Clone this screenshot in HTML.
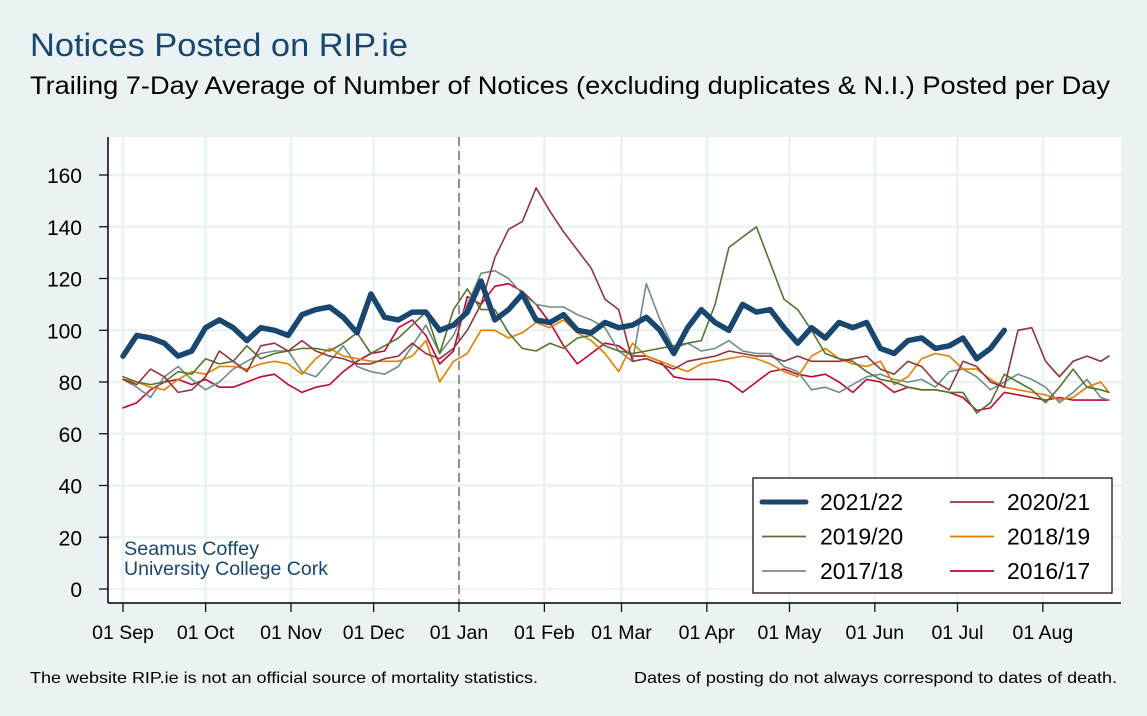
<!DOCTYPE html>
<html><head><meta charset="utf-8"><style>
body{margin:0;background:#eaf2f3;}
svg{display:block;font-family:"Liberation Sans",Arial,sans-serif;}
</style></head><body>
<svg id="chart" width="1147" height="716" viewBox="0 0 1147 716">
<rect x="0" y="0" width="1147" height="716" fill="#eaf2f3"/>
<text x="30" y="56" font-size="32" fill="#1a476f" textLength="378" lengthAdjust="spacingAndGlyphs">Notices Posted on RIP.ie</text>
<text x="30" y="94" font-size="25" fill="#000" textLength="1080" lengthAdjust="spacingAndGlyphs">Trailing 7-Day Average of Number of Notices (excluding duplicates &amp; N.I.) Posted per Day</text>
<rect x="108" y="137" width="1013" height="466" fill="#fff"/>
<g id="grid"></g>
<g id="series"></g>
<line x1="459" y1="137" x2="459" y2="603" stroke="#555" stroke-width="1.2" stroke-dasharray="9,5"/>
<g id="axes"></g>
<text x="124" y="555" font-size="19" fill="#1a476f" textLength="135" lengthAdjust="spacingAndGlyphs">Seamus Coffey</text>
<text x="124" y="575" font-size="19" fill="#1a476f" textLength="204" lengthAdjust="spacingAndGlyphs">University College Cork</text>
<g>
<rect x="753" y="478" width="359" height="115" fill="#fff" stroke="#000" stroke-width="1.2"/>
<g id="legend-items"></g>
</g>
<text x="30" y="683" font-size="16" fill="#000" textLength="508" lengthAdjust="spacingAndGlyphs">The website RIP.ie is not an official source of mortality statistics.</text>
<text x="634" y="683" font-size="16" fill="#000" textLength="483" lengthAdjust="spacingAndGlyphs">Dates of posting do not always correspond to dates of death.</text>
</svg>
<script>
const days = [0,5,10,15,20,25,30,35,40,45,50,55,60,65,70,75,80,85,90,95,100,105,110,115,120,125,130,135,140,145,150,155,160,165,170,175,180,185,190,195,200,205,210,215,220,225,230,235,240,245,250,255,260,265,270,275,280,285,290,295,300,305,310,315,320,325,330,335,340,345,350,355,358];
const s2122 = [90,98,97,95,90,92,101,104,101,96,101,100,98,106,108,109,105,99,114,105,104,107,107,100,102,107,119,104,108,114,104,103,106,100,99,103,101,102,105,100,91,101,108,103,100,110,107,108,101,95,101,97,103,101,103,93,91,96,97,93,94,97,89,93,100];
const s2021 = [81,79,85,82,76,77,82,92,88,84,94,95,92,96,92,90,89,87,87,89,90,95,91,89,93,100,110,128,139,142,155,146,138,131,124,112,108,88,89,87,85,88,89,90,92,91,90,90,88,90,88,88,88,89,90,85,83,88,86,80,77,88,86,80,78,100,101,88,82,88,90,88,90];
const s1920 = [82,80,79,80,84,83,89,87,88,94,89,91,92,93,93,92,95,99,91,94,97,102,107,91,108,116,108,108,99,93,92,95,93,97,98,94,92,91,92,93,94,95,96,110,132,136,140,126,112,108,100,91,89,88,84,81,80,78,77,77,76,76,68,72,83,80,77,72,78,85,78,77,76];
const s1819 = [81,80,78,77,81,84,83,86,86,85,87,88,87,83,89,93,90,89,88,88,88,90,96,80,88,91,100,100,97,99,103,101,104,99,96,91,84,95,90,88,86,84,87,88,89,90,89,87,84,82,90,93,89,87,86,88,79,82,89,91,90,85,85,81,78,77,76,75,73,74,78,80,76];
const s1718 = [81,78,74,82,86,81,77,80,85,88,91,92,92,84,82,88,94,86,84,83,86,94,102,91,98,110,122,123,120,114,110,109,109,106,104,101,92,88,118,104,93,95,92,93,96,92,91,91,86,84,77,78,76,79,82,83,81,80,81,78,84,85,82,77,80,83,81,78,72,76,81,74,73];
const s1617 = [70,72,77,80,81,79,81,78,78,80,82,83,79,76,78,79,84,88,91,92,101,104,98,87,92,113,110,117,118,115,110,103,94,87,91,95,94,90,90,88,82,81,81,81,80,76,80,84,85,83,82,83,80,76,81,80,76,78,77,77,76,74,69,70,76,75,74,73,74,73,73,73,73];
const yTicks = [0,20,40,60,80,100,120,140,160];
const xTickDays = [0,30,61,91,122,153,181,212,242,273,303,334];
const xTickLabels = ["01 Sep","01 Oct","01 Nov","01 Dec","01 Jan","01 Feb","01 Mar","01 Apr","01 May","01 Jun","01 Jul","01 Aug"];
const seriesNames = ["2021/22","2020/21","2019/20","2018/19","2017/18","2016/17"];

const NS="http://www.w3.org/2000/svg";
const xScale = d => 123 + d*2.754;
const yScale = v => 589 - v*2.5875;
function mk(tag, attrs, parent){const e=document.createElementNS(NS,tag);for(const k in attrs)e.setAttribute(k,attrs[k]);parent.appendChild(e);return e;}
const grid=document.getElementById('grid'), axes=document.getElementById('axes'), sg=document.getElementById('series'), lg=document.getElementById('legend-items');

yTicks.forEach(v=>{
  const y=yScale(v);
  const g=mk('line',{x1:108,x2:1121,y1:y,y2:y,stroke:'#eaf2f3','stroke-width':2.5},grid);
  
  
  const t=mk('line',{x1:99,x2:108,y1:y,y2:y,stroke:'#000','stroke-width':1.2},axes);
  
  
  const l=mk('text',{x:82,y:y+8,'font-size':21,'text-anchor':'end',fill:'#000'},axes);
  l.textContent=v;
  
  
});
xTickDays.forEach((d,i)=>{
  const x=xScale(d);
  const g=mk('line',{x1:x,x2:x,y1:137,y2:603,stroke:'#eaf2f3','stroke-width':2.5},grid);
  
  
  const t=mk('line',{x1:x,x2:x,y1:603,y2:612,stroke:'#000','stroke-width':1.2},axes);
  
  
  const l=mk('text',{x:x,y:639,'font-size':19.5,'text-anchor':'middle',fill:'#000'},axes);
  l.textContent=xTickLabels[i];
  
  
});
const ya=mk('line',{x1:108,x2:108,y1:137,y2:603,stroke:'#000','stroke-width':1.5},axes);


const xa=mk('line',{x1:108,x2:1121,y1:603,y2:603,stroke:'#000','stroke-width':1.5},axes);



const defs=[
  {data:s1617,color:'#c10534',w:1.6,name:'line-2016-17'},
  {data:s1718,color:'#6e8e84',w:1.6,name:'line-2017-18'},
  {data:s1819,color:'#e37e00',w:1.6,name:'line-2018-19'},
  {data:s1920,color:'#55752f',w:1.6,name:'line-2019-20'},
  {data:s2021,color:'#90353b',w:1.6,name:'line-2020-21'},
  {data:s2122,color:'#1a476f',w:5.5,name:'line-2021-22'}
];
defs.forEach(s=>{
  const pts=s.data.map((v,i)=>xScale(days[i]).toFixed(1)+','+yScale(v).toFixed(1)).join(' ');
  const p=mk('polyline',{points:pts,fill:'none',stroke:s.color,'stroke-width':s.w,'stroke-linejoin':'round','stroke-linecap':'round'},sg);
  
  
});

const legColors=['#1a476f','#90353b','#55752f','#e37e00','#6e8e84','#c10534'];
seriesNames.forEach((n,i)=>{
  const col=i%2, row=Math.floor(i/2);
  const lx=col?950:762, tx=col?1007:820, y=502+row*34.5;
  const l=mk('line',{x1:lx,x2:lx+44,y1:y,y2:y,stroke:legColors[i],'stroke-width':i===0?5:1.8,'stroke-linecap':i===0?'round':'butt'},lg);
  
  
  const t=mk('text',{x:tx,y:y+8,'font-size':23,fill:'#000'},lg);
  t.textContent=n;
  
  
});
</script>
</body></html>
